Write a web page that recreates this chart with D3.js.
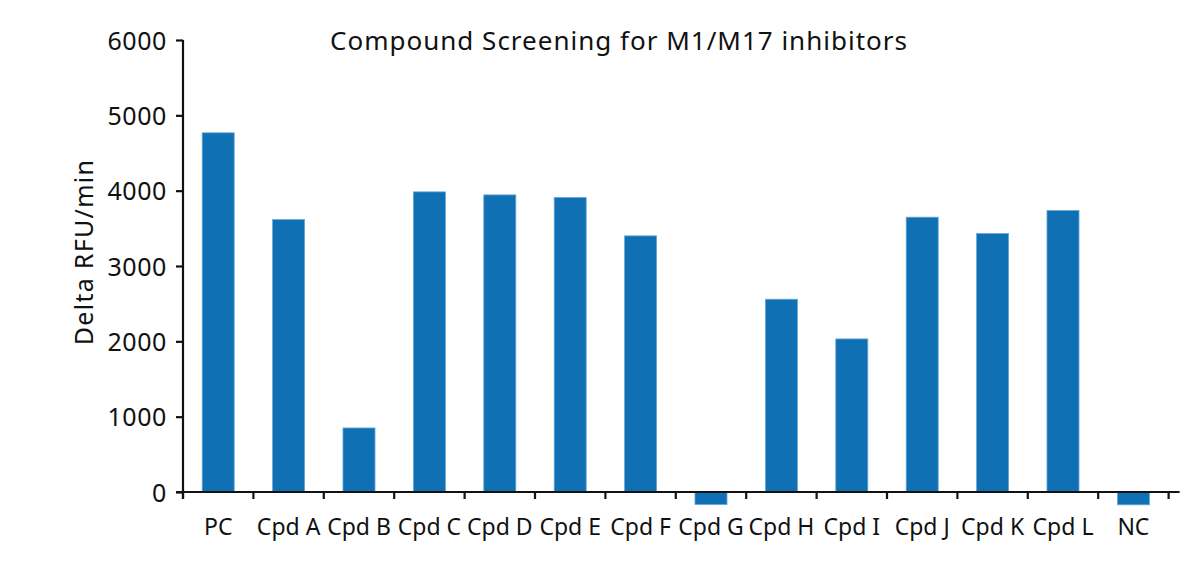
<!DOCTYPE html>
<html>
<head>
<meta charset="utf-8">
<script src="https://cdn.jsdelivr.net/npm/d3@7"></script>
<style>
	body { margin: 0; background: #fff; }
	text { font-family: "Noto Sans", "Open Sans", sans-serif; fill: #111; }
</style>
</head>
<body>
<script>
// chart values
const categories = ["PC", "Cpd A", "Cpd B", "Cpd C", "Cpd D", "Cpd E", "Cpd F", "Cpd G", "Cpd H", "Cpd I", "Cpd J", "Cpd K", "Cpd L", "NC"];
const rfuValues = [4768, 3617, 850, 3984, 3944, 3910, 3400, -167, 2559, 2032, 3648, 3431, 3737, -170];
const yTicks = [0, 1000, 2000, 3000, 4000, 5000, 6000];
const chartTitle = "Compound Screening for M1/M17 inhibitors";
const yLabel = "Delta RFU/min";

// size of the page and plot area
const width = 1200, height = 568;
const plot = { left: 183, right: 1168.6, top: 40, bottom: 492 };

const svg = d3.select("body").append("svg")
	.attr("width", width)
	.attr("height", height);

// band scale: outer padding half of inner so every cell is one step wide
const x = d3.scaleBand()
	.domain(categories)
	.range([plot.left, plot.right])
	.paddingInner(0.545)
	.paddingOuter(0.2725);

const y = d3.scaleLinear()
	.domain([0, 6000])
	.range([plot.bottom, plot.top]);

// bars
svg.selectAll(".bar")
	.data(categories)
	.enter().append("rect")
	.attr("class", "bar")
	.attr("x", d => x(d))
	.attr("width", x.bandwidth())
	.attr("y", (d, i) => y(Math.max(0, rfuValues[i])))
	.attr("height", (d, i) => Math.abs(y(rfuValues[i]) - y(0)))
	.attr("fill", "#0f70b3")
	.attr("stroke", "#6aa8d8")
	.attr("stroke-width", 0.8);

// y axis
const yAxis = svg.append("g")
	.attr("transform", "translate(" + plot.left + ",0)")
	.call(d3.axisLeft(y).tickValues(yTicks).tickFormat(d3.format("d")).tickSize(7).tickPadding(9).tickSizeOuter(0));
yAxis.select(".domain").attr("stroke", "#111").attr("stroke-width", 2.2)
	.attr("d", "M0," + plot.top + "V" + (plot.bottom + 7));
yAxis.selectAll(".tick line").attr("stroke", "#111").attr("stroke-width", 2.2);
yAxis.selectAll(".tick text")
	.style("font-size", "25px")
	.style("letter-spacing", "0.6px")
	.attr("dy", "0.36em");

// x axis: labels under the bars, tick marks on the cell borders
const xAxis = svg.append("g")
	.attr("transform", "translate(0," + y(0) + ")")
	.call(d3.axisBottom(x).tickSize(0).tickPadding(27));
xAxis.select(".domain").attr("stroke", "#111").attr("stroke-width", 2.2)
	.attr("d", "M" + (plot.left - 7) + ",0H" + (plot.right + 11));
xAxis.selectAll(".tick text").style("font-size", "23px");

const borders = categories.map(d => x(d) - x.step() * x.paddingInner() / 2).concat([plot.right]);
xAxis.selectAll(".border")
	.data(borders)
	.enter().append("line")
	.attr("class", "border")
	.attr("x1", d => d).attr("x2", d => d)
	.attr("y1", 0).attr("y2", 7)
	.attr("stroke", "#111")
	.attr("stroke-width", 2.2);

// title
svg.append("text")
	.attr("x", 619)
	.attr("y", 50)
	.attr("text-anchor", "middle")
	.style("font-size", "26px")
	.style("letter-spacing", "1px")
	.text(chartTitle);

// y axis title
svg.append("text")
	.attr("transform", "translate(93,252) rotate(-90)")
	.attr("text-anchor", "middle")
	.style("font-size", "25px")
	.style("letter-spacing", "1.3px")
	.text(yLabel);
</script>
</body>
</html>
